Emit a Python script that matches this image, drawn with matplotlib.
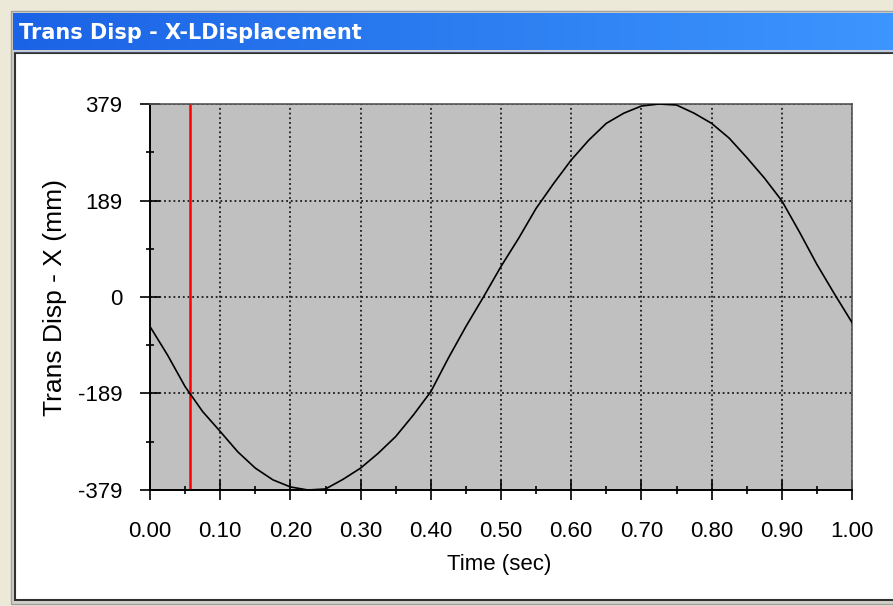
import matplotlib
matplotlib.use('Agg')
import matplotlib.pyplot as plt
import numpy as np
from matplotlib.colors import LinearSegmentedColormap
from matplotlib.patches import Rectangle

# Displacement history
time_s = [0.000, 0.025, 0.050, 0.075, 0.100, 0.125, 0.150, 0.175, 0.200, 0.225,
          0.250, 0.275, 0.300, 0.325, 0.350, 0.375, 0.400, 0.425, 0.450, 0.475,
          0.500, 0.525, 0.550, 0.575, 0.600, 0.625, 0.650, 0.675, 0.700, 0.725,
          0.750, 0.775, 0.800, 0.825, 0.850, 0.875, 0.900, 0.925, 0.950, 0.975,
          1.000]
disp_mm = [-58, -114, -176, -225, -264, -304, -336, -359, -373, -379,
           -377, -358, -336, -307, -274, -232, -186, -120, -58, 0,
           60, 115, 174, 223, 269, 308, 341, 361, 375, 379,
           377, 361, 341, 312, 274, 234, 189, 128, 64, 6,
           -50]

# current time cursor (red line)
cursor_time = 0.057

x_ticks = [0.0, 0.1, 0.2, 0.3, 0.4, 0.5, 0.6, 0.7, 0.8, 0.9, 1.0]
y_ticks = [-379, -189, 0, 189, 379]

window_title = 'Trans Disp - X-LDisplacement'
x_label = 'Time (sec)'
y_label = 'Trans Disp - X (mm)'

W, H = 893, 606
plt.rcParams['font.family'] = ['Liberation Sans', 'DejaVu Sans']

fig = plt.figure(figsize=(W / 100, H / 100), dpi=100, facecolor='#ECE9D8')

# window chrome, drawn in pixel coordinates on a background axes
bg = fig.add_axes([0, 0, 1, 1], zorder=0)
bg.add_patch(Rectangle((11, 11), W, 593, facecolor='#D4D0C8', edgecolor='#A0A0A0', lw=1, zorder=0))
bg.add_patch(Rectangle((15, 53), W, 547, facecolor='white', edgecolor='#303030', lw=1.5, zorder=1))
xp_blue = LinearSegmentedColormap.from_list('xp', ['#1B63E6', '#2C7DF0', '#3D95FF'])
bg.imshow(np.linspace(0, 1, 256)[None, :], cmap=xp_blue, aspect='auto',
          extent=(13, W, 50, 13), zorder=2)
bg.hlines(51, 13, W, color='#B8C8E8', lw=1, zorder=3)
bg.text(19, 33, window_title, color='white', fontsize=15, fontweight='bold',
        family='DejaVu Sans', ha='left', va='center', zorder=4)
bg.set_xlim(0, W)
bg.set_ylim(H, 0)
bg.axis('off')

# plot area
ax = fig.add_axes([150 / W, 1 - 490 / H, 702 / W, 386 / H], zorder=2)
ax.set_facecolor('#C0C0C0')

ax.axvline(cursor_time, color='red', lw=1.8, zorder=2)
ax.plot(time_s, disp_mm, color='black', lw=1.2, zorder=3)

ax.set_xlim(0, 1)
ax.set_ylim(-379, 379)
ax.set_xticks(x_ticks)
ax.set_xticklabels([f'{v:.2f}' for v in x_ticks])
ax.set_xticks([(a + b) / 2 for a, b in zip(x_ticks[:-1], x_ticks[1:])], minor=True)
ax.set_yticks(y_ticks)
ax.set_yticklabels([str(v) for v in y_ticks])
ax.set_yticks([(a + b) / 2 for a, b in zip(y_ticks[:-1], y_ticks[1:])], minor=True)

ax.grid(True, which='major', color='#1A1A1A', linestyle=(0, (1, 1.6)), linewidth=1.3)
ax.tick_params(which='major', direction='inout', length=14, width=1.2, labelsize=16, color='black')
ax.tick_params(axis='x', which='major', pad=15)
ax.tick_params(axis='y', which='major', pad=13)
ax.tick_params(which='minor', direction='inout', length=6, width=1.2, color='black')

for side in ['left', 'bottom']:
    ax.spines[side].set_color('black')
    ax.spines[side].set_linewidth(1.4)
for side in ['top', 'right']:
    ax.spines[side].set_color('#555555')
    ax.spines[side].set_linewidth(1.2)

ax.set_xlabel(x_label, fontsize=16)
ax.xaxis.set_label_coords(0.497, -0.165)
fig.text(55 / W, 1 - 297 / H, y_label, rotation=90, fontsize=19, ha='center', va='center')

fig.savefig('out.png', dpi=100, facecolor=fig.get_facecolor())
